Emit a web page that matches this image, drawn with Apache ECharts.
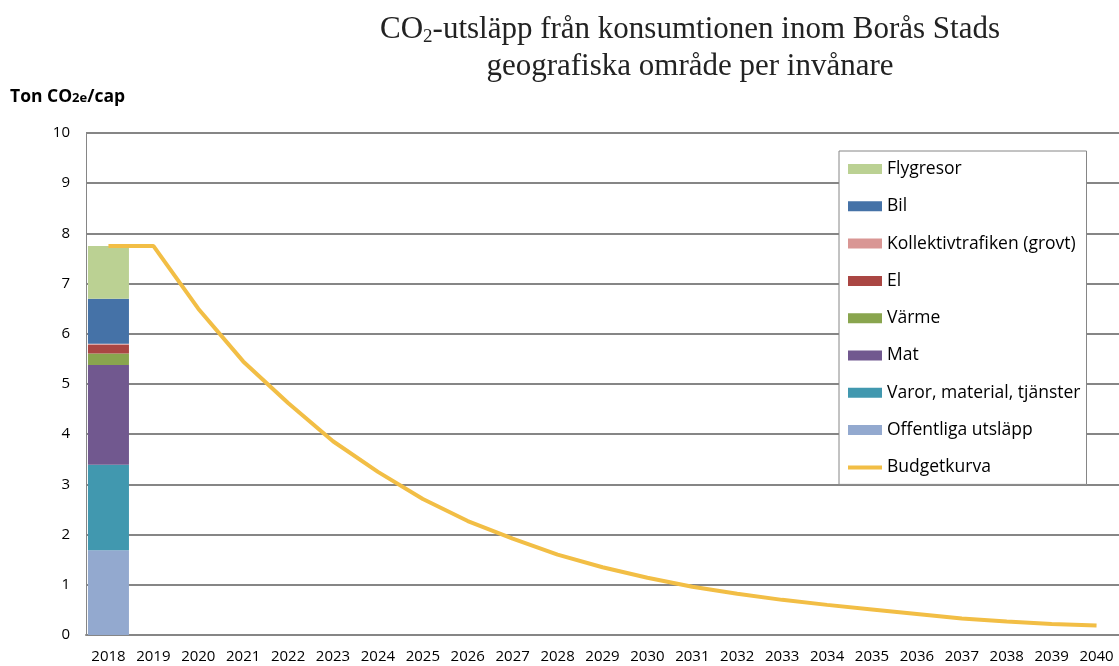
<!DOCTYPE html>
<html>
<head>
    <meta charset="utf-8">
    <title>CO2-utsläpp Borås</title>
    <script src="https://cdn.jsdelivr.net/npm/echarts@6/dist/echarts.min.js"></script>
</head>
<body style="margin:0;background:#fff;">
<div id="main" style="width:1119px;height:666px;"></div>
<script type="text/javascript">
    // årtal på x-axeln
    var years = ['2018','2019','2020','2021','2022','2023','2024','2025','2026','2027','2028',
        '2029','2030','2031','2032','2033','2034','2035','2036','2037','2038','2039','2040'];

    // stapeln för 2018 (nerifrån och upp)
    var offentliga = [1.69];
    var varor = [1.70];
    var mat = [1.99];
    var varme = [0.23];
    var el = [0.17];
    var kollektiv = [0.02];
    var bil = [0.90];
    var flyg = [1.05];

    // budgetkurvan
    var budget = [7.75, 7.75, 6.50, 5.45, 4.62, 3.86, 3.25, 2.71, 2.27, 1.92, 1.60, 1.35,
        1.14, 0.96, 0.82, 0.70, 0.60, 0.51, 0.42, 0.33, 0.27, 0.22, 0.19];

    var gridColor = '#868686';
    var font = '"Open Sans", Lato, sans-serif';

    function barSerie(name, values, color) {
        return {
            name: name,
            type: 'bar',
            stack: 'total',
            barWidth: 41,
            data: values,
            itemStyle: {color: color},
            emphasis: {disabled: true}
        };
    }

    var myChart = echarts.init(document.getElementById('main'));
    myChart.setOption({
        animation: false,
        backgroundColor: '#fff',
        graphic: [
            {
                type: 'text',
                x: 690,
                y: 11,
                style: {
                    text: '{a|CO}{s|2}{a|-utsläpp från konsumtionen inom Borås Stads}\n{a|geografiska område per invånare}',
                    align: 'center',
                    rich: {
                        a: {fontSize: 31, fontFamily: '"Liberation Serif", serif', fill: '#222', lineHeight: 37},
                        s: {fontSize: 19, fontFamily: '"Liberation Serif", serif', fill: '#222', lineHeight: 37, padding: [15, 0, 0, 0]}
                    }
                }
            },
            {
                type: 'text',
                x: 10,
                y: 86,
                style: {
                    text: '{a|Ton CO}{s|2e}{a|/cap}',
                    rich: {
                        a: {fontSize: 17.5, fontWeight: 'bold', fontFamily: font, fill: '#000', lineHeight: 22},
                        s: {fontSize: 13, fontWeight: 'bold', fontFamily: font, fill: '#000', lineHeight: 22, padding: [3, 0, 0, 0]}
                    }
                }
            }
        ],
        legend: {
            orient: 'vertical',
            left: 839,
            top: 151,
            padding: [9, 6, 8, 9],
            itemGap: 19.3,
            itemWidth: 34,
            itemHeight: 10,
            backgroundColor: '#fff',
            borderColor: gridColor,
            borderWidth: 1,
            borderRadius: 0,
            textStyle: {fontSize: 17.5, fontFamily: font, color: '#000'},
            data: [
                {name: 'Flygresor', icon: 'rect'},
                {name: 'Bil', icon: 'rect'},
                {name: 'Kollektivtrafiken (grovt)', icon: 'rect'},
                {name: 'El', icon: 'rect'},
                {name: 'Värme', icon: 'rect'},
                {name: 'Mat', icon: 'rect'},
                {name: 'Varor, material, tjänster', icon: 'rect'},
                {name: 'Offentliga utsläpp', icon: 'rect'},
                {name: 'Budgetkurva', icon: 'path://M0,0 L34,0 L34,4 L0,4 Z'}
            ]
        },
        grid: {left: 86, top: 133, width: 1041, height: 502},
        xAxis: {
            type: 'category',
            data: years,
            axisLine: {lineStyle: {color: gridColor, width: 2}},
            axisTick: {show: false},
            axisLabel: {interval: 0, fontSize: 15, fontFamily: font, color: '#000', margin: 14}
        },
        yAxis: {
            type: 'value',
            min: 0,
            max: 10,
            interval: 1,
            axisLine: {show: true, lineStyle: {color: gridColor, width: 1}},
            axisTick: {show: false},
            axisLabel: {fontSize: 15, fontFamily: font, color: '#000', margin: 16},
            splitLine: {lineStyle: {color: gridColor, width: 2}}
        },
        series: [
            barSerie('Offentliga utsläpp', offentliga, '#93A9CF'),
            barSerie('Varor, material, tjänster', varor, '#4198AF'),
            barSerie('Mat', mat, '#71588F'),
            barSerie('Värme', varme, '#89A54E'),
            barSerie('El', el, '#AA4643'),
            barSerie('Kollektivtrafiken (grovt)', kollektiv, '#D99694'),
            barSerie('Bil', bil, '#4572A7'),
            barSerie('Flygresor', flyg, '#BBD193'),
            {
                name: 'Budgetkurva',
                type: 'line',
                data: budget,
                symbol: 'none',
                z: 5,
                lineStyle: {color: '#F2BE45', width: 4},
                itemStyle: {color: '#F2BE45'},
                emphasis: {disabled: true}
            }
        ]
    });
</script>
</body>
</html>
